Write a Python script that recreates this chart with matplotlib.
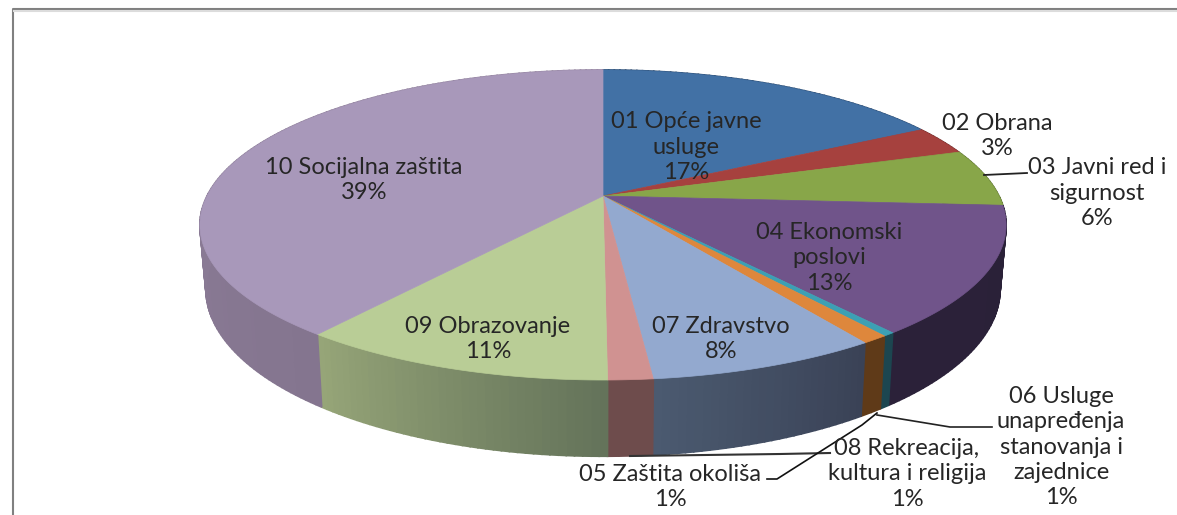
import numpy as np
import matplotlib
matplotlib.use("Agg")
import matplotlib.pyplot as plt

plt.rcParams['font.family'] = ['Lato', 'DejaVu Sans']

# share of each slice, clockwise from 12 o'clock
slices = ["01", "02", "03", "04", "05", "06", "07", "08", "09", "10"]
shares = [17.0, 3.0, 6.0, 13.3, 0.4, 0.9, 7.8, 1.5, 10.7, 39.5]

top_colors = ["#4271a5", "#a6413e", "#88a649", "#70548a", "#3ca0b4",
              "#de873c", "#93a9cf", "#d09291", "#b9cd96", "#a898ba"]
wall_left = ["#2a4a70", "#6e2b2a", "#5a6e30", "#2b2139", "#1c4650",
             "#5f3a18", "#4b5a70", "#6e4c4c", "#96a578", "#94849f"]
wall_right = ["#2a4a70", "#6e2b2a", "#5a6e30", "#2a2138", "#1c4650",
              "#5f3a18", "#3a4256", "#6e4c4c", "#64735a", "#84758f"]

labels = ["01 Opće javne\nusluge\n17%", "02 Obrana\n3%", "03 Javni red i\nsigurnost\n6%",
          "04 Ekonomski\nposlovi\n13%", "05 Zaštita okoliša\n1%",
          "06 Usluge\nunapređenja\nstanovanja i\nzajednice\n1%", "07 Zdravstvo\n8%",
          "08 Rekreacija,\nkultura i religija\n1%", "09 Obrazovanje\n11%",
          "10 Socijalna zaštita\n39%"]
label_pos = [(686, 147), (997, 136), (1097, 193), (829, 258), (670, 487),
             (1061, 447), (721, 339), (907, 474), (488, 339), (364, 180)]

# perspective of the tilted disc, in pixels
hub_x, hub_y = 603, 196
rad_x, rad_y = 396, 149.6
tilt = 0.187
depth = 62


def top_edge(t):
    w = 1 + tilt * np.cos(t)
    return hub_x + rad_x * np.sin(t) / w, hub_y - rad_y * np.cos(t) / w


def bottom_edge(t):
    w = 1 + tilt * np.cos(t)
    return hub_x + 0.985 * rad_x * np.sin(t) / w, hub_y - rad_y * np.cos(t) / w + depth / w


fig = plt.figure(figsize=(11.77, 5.15), dpi=100)
ax = fig.add_axes([0, 0, 1, 1])
ax.set_xlim(0, 1177)
ax.set_ylim(515, 0)
ax.axis("off")

edges = np.cumsum([0] + shares) / sum(shares) * 2 * np.pi

# side wall first, the top face covers whatever is behind it
for i in range(len(shares)):
    ts = np.linspace(edges[i], edges[i + 1], max(int((edges[i + 1] - edges[i]) * 60), 2))
    c0 = np.array(matplotlib.colors.to_rgb(wall_left[i]))
    c1 = np.array(matplotlib.colors.to_rgb(wall_right[i]))
    x_top, y_top = top_edge(ts)
    x_bot, y_bot = bottom_edge(ts)
    for j in range(len(ts) - 1):
        mix = j / max(len(ts) - 2, 1)
        col = c1 * (1 - mix) + c0 * mix
        ax.fill([x_top[j], x_top[j + 1], x_bot[j + 1], x_bot[j]],
                [y_top[j], y_top[j + 1], y_bot[j + 1], y_bot[j]],
                color=col, lw=1.2, zorder=1)

for i in range(len(shares)):
    ts = np.linspace(edges[i], edges[i + 1], 200)
    x_top, y_top = top_edge(ts)
    ax.fill(np.r_[hub_x, x_top], np.r_[hub_y, y_top], color=top_colors[i], lw=0.5, zorder=2)

# frame, cut off by the right and bottom of the picture
ax.plot([12.5, 12.5, 1177], [515, 9, 9], color="#808080", lw=1.5, zorder=3)
ax.plot([14, 1177], [10.5, 10.5], color="#dcdcdc", lw=1.5, zorder=3)

# leader lines
ax.plot([984, 1027], [175, 173], color="#222222", lw=1.3, zorder=4)
ax.plot([877, 950, 992], [415, 427, 427], color="#222222", lw=1.2, zorder=4)
ax.plot([630, 780, 830], [456, 454, 453], color="#333333", lw=1.5, zorder=4)
ax.plot([767, 777, 862, 877], [479, 479, 425, 413], color="#111111", lw=1.2, zorder=4)

for name, (lx, ly) in zip(labels, label_pos):
    ax.text(lx, ly, name, ha="center", va="center", fontsize=17, color="#262626",
            linespacing=1.24, zorder=5)

fig.savefig("out.png", dpi=100)
